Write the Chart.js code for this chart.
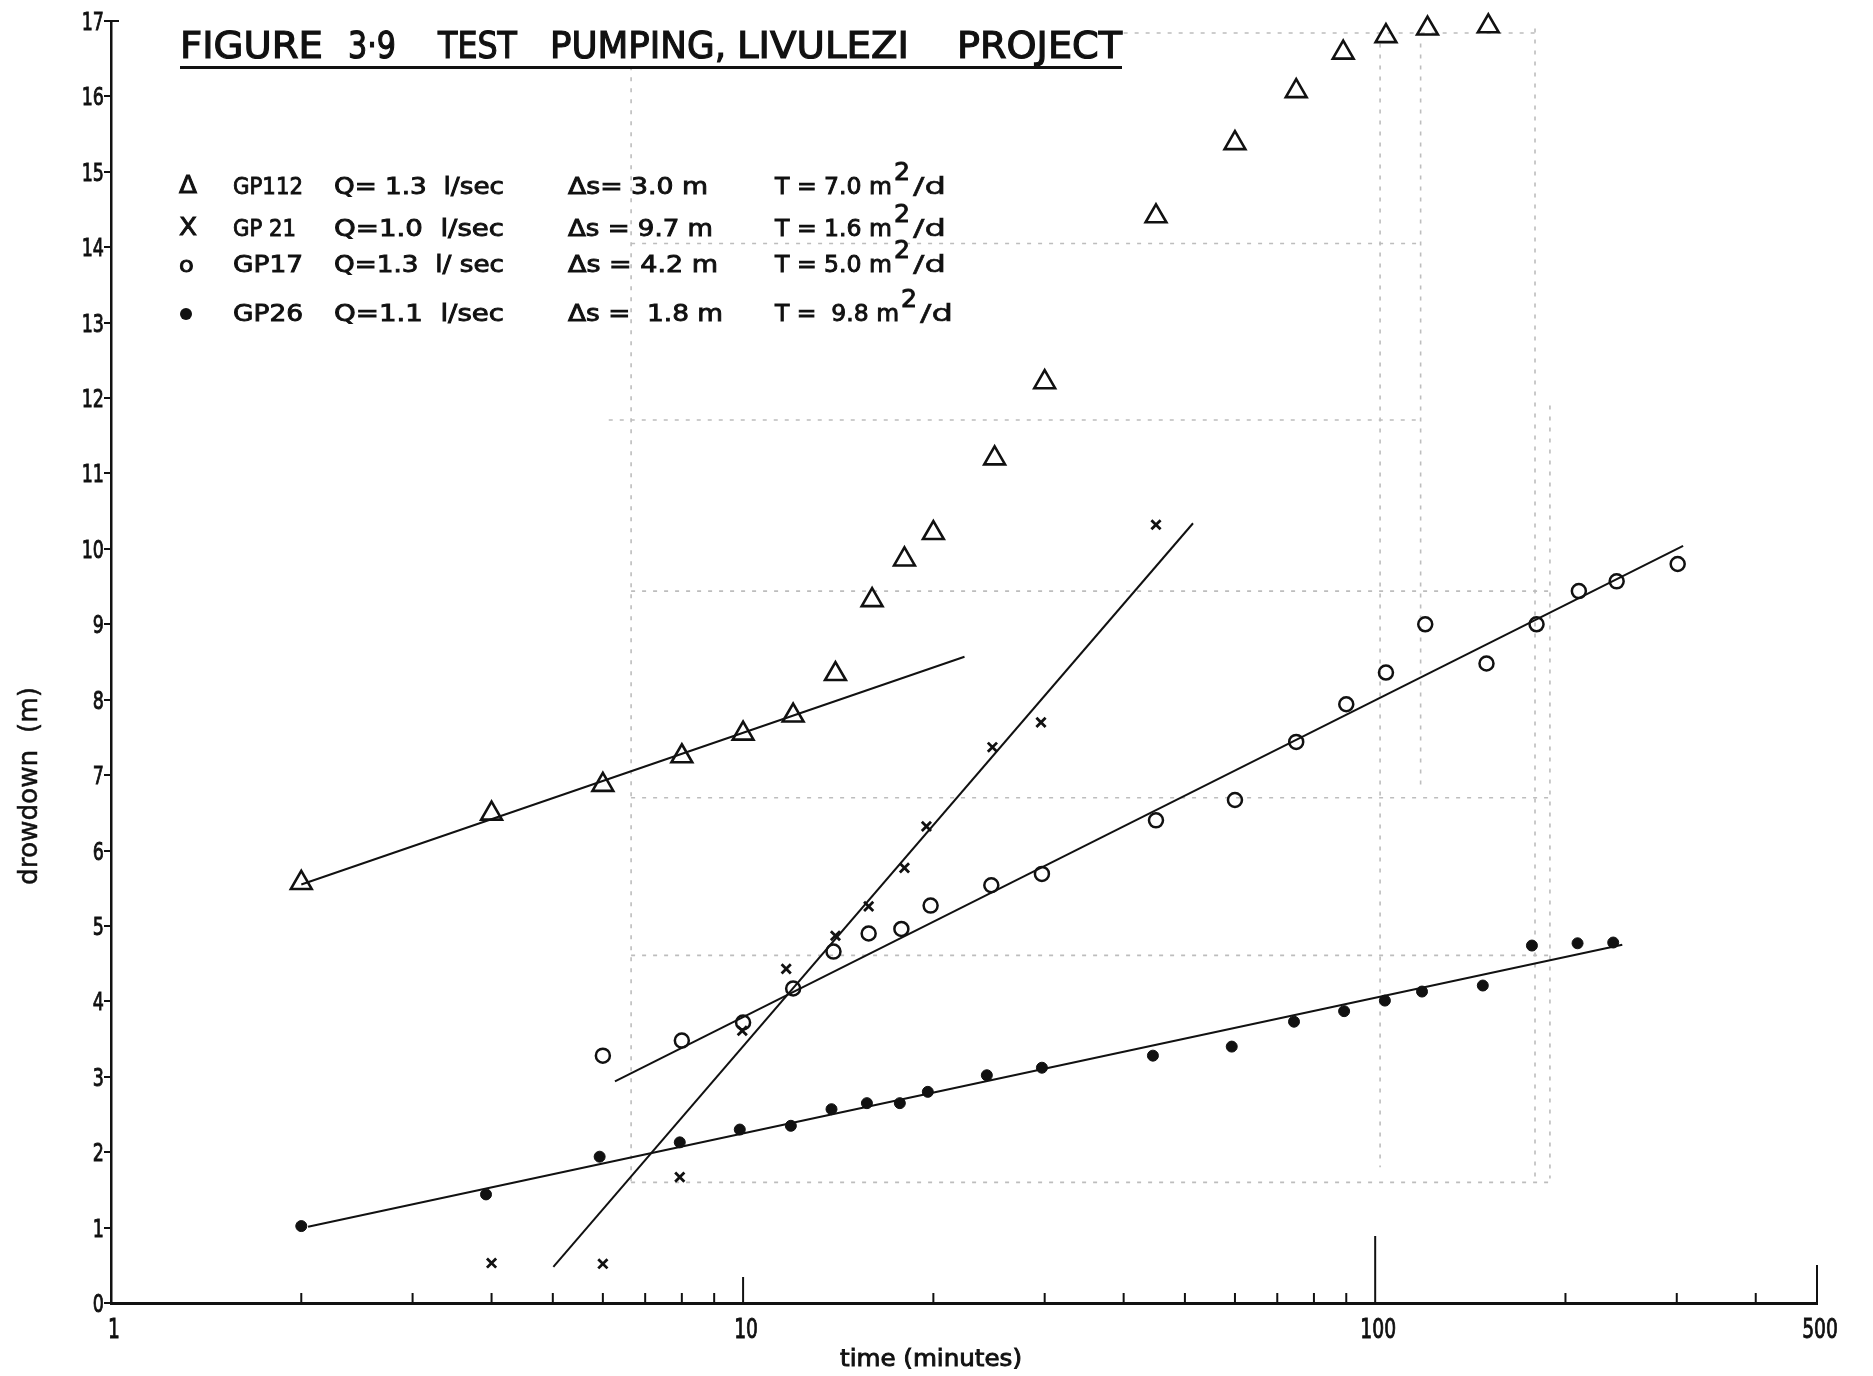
<!DOCTYPE html>
<html lang="en">
<head>
  <meta charset="UTF-8" />
  <title>Figure 3.9 Test Pumping, Livulezi Project</title>
  <script src="https://cdn.jsdelivr.net/npm/chart.js@4.4.0/dist/chart.umd.min.js"></script>
  <style>
    html, body { margin: 0; padding: 0; background: #fff; }
    #wrap { width: 1873px; height: 1376px; }
  </style>
</head>
<body>
  <div id="wrap"><canvas id="chart" width="1873" height="1376"></canvas></div>

  <script>
    // --- values: time (minutes) vs drawdown (m) ---
    const gp112Time = [2, 4, 6, 8, 10, 12, 14, 16, 18, 20, 25, 30, 45, 60, 75, 89, 104, 121, 151];
    const gp112Draw = [5.57, 6.49, 6.87, 7.25, 7.55, 7.79, 8.34, 9.32, 9.86, 10.21, 11.2, 12.21, 14.41, 15.38, 16.07, 16.58, 16.8, 16.9, 16.93];

    const gp21Time = [4, 6, 7.94, 9.97, 11.7, 14, 15.8, 18, 19.5, 24.8, 29.6, 45];
    const gp21Draw = [0.53, 0.52, 1.67, 3.61, 4.43, 4.87, 5.26, 5.77, 6.32, 7.37, 7.7, 10.32];

    const gp17Time = [6, 8, 10, 12, 13.9, 15.8, 17.8, 19.8, 24.7, 29.7, 45, 60, 75, 90, 104, 120, 150, 180, 210, 241, 301];
    const gp17Draw = [3.28, 3.48, 3.72, 4.17, 4.66, 4.9, 4.96, 5.27, 5.54, 5.69, 6.4, 6.67, 7.44, 7.94, 8.36, 9.0, 8.48, 9.0, 9.44, 9.57, 9.8];

    const gp26Time = [2, 3.92, 5.93, 7.94, 9.88, 11.9, 13.8, 15.7, 17.7, 19.6, 24.3, 29.7, 44.5, 59.3, 74.4, 89.3, 103.6, 118.6, 148, 177, 209, 238];
    const gp26Draw = [1.02, 1.44, 1.94, 2.13, 2.3, 2.35, 2.57, 2.65, 2.65, 2.8, 3.02, 3.12, 3.28, 3.4, 3.73, 3.87, 4.01, 4.13, 4.21, 4.74, 4.77, 4.78];

    // straight-line fits drawn on the original (end points)
    const fit112Time = [2.0, 22.4];   const fit112Draw = [5.55, 8.57];
    const fit21Time  = [5.01, 51.5];  const fit21Draw  = [0.48, 10.34];
    const fit17Time  = [6.27, 307];   const fit17Draw  = [2.94, 10.04];
    const fit26Time  = [2.05, 246];   const fit26Draw  = [1.01, 4.75];

    // axes
    const xTickLabels = [1, 10, 100, 500];
    const xMin = 1, xMax = 500, yMin = 0, yMax = 17;

    // legend block text
    const legendSymbols = ['\u0394', 'X', 'o', '\u2022'];
    const wellNames = ['GP112', 'GP 21', 'GP17', 'GP26'];
    const rates = ['Q= 1.3  l/sec', 'Q=1.0  l/sec', 'Q=1.3  l/ sec', 'Q=1.1  l/sec'];
    const deltaS = ['\u0394s= 3.0 m', '\u0394s = 9.7 m', '\u0394s = 4.2 m', '\u0394s =  1.8 m'];
    const transm = ['T = 7.0 m', 'T = 1.6 m', 'T = 5.0 m', 'T =  9.8 m'];

    const titleWords = ['FIGURE', '3\u00B79', 'TEST', 'PUMPING,', 'LIVULEZI', 'PROJECT'];

    // faint dashed bleed-through lines of the scanned sheet, in data units
    const scanVert = [[6.65, 16.4, 1.55], [101.8, 16.7, 1.8], [118, 16.7, 6.8], [179, 16.9, 1.6], [189, 11.9, 1.65]];
    const scanHorz = [[16.84, 40, 179], [14.05, 6.65, 118], [11.71, 6.13, 118], [9.44, 6.65, 188], [6.7, 6.65, 188], [4.61, 6.65, 188], [1.6, 6.65, 189]];

    const pts = (xs, ys) => xs.map((x, i) => ({ x: x, y: ys[i] }));

    // pen-lettering look: condensed DejaVu, lightly stroked
    function drawText(ctx, s, x, y, o) {
      ctx.save();
      ctx.font = o.size + 'px "DejaVu Sans", sans-serif';
      const w = ctx.measureText(s).width;
      const sx = o.width ? o.width / w : (o.sx || 1);
      ctx.translate(x, y);
      if (o.rot) ctx.rotate(o.rot);
      ctx.scale(sx, 1);
      ctx.textAlign = o.align || 'left';
      ctx.textBaseline = 'alphabetic';
      ctx.fillStyle = '#111';
      ctx.strokeStyle = '#111';
      ctx.lineWidth = o.pen === undefined ? 0.9 : o.pen;
      ctx.fillText(s, 0, 0);
      if (ctx.lineWidth > 0) ctx.strokeText(s, 0, 0);
      ctx.restore();
    }

    const paper = {
      id: 'paper',
      beforeDatasetsDraw(chart) {
        const { ctx, scales: { x, y } } = chart;
        ctx.save();
        ctx.strokeStyle = '#bdbdbd';
        ctx.lineWidth = 1.6;
        ctx.setLineDash([4, 7]);
        scanVert.forEach(v => {
          ctx.beginPath();
          ctx.moveTo(x.getPixelForValue(v[0]), y.getPixelForValue(v[1]));
          ctx.lineTo(x.getPixelForValue(v[0]), y.getPixelForValue(v[2]));
          ctx.stroke();
        });
        scanHorz.forEach(h => {
          ctx.beginPath();
          ctx.moveTo(x.getPixelForValue(h[1]), y.getPixelForValue(h[0]));
          ctx.lineTo(x.getPixelForValue(h[2]), y.getPixelForValue(h[0]));
          ctx.stroke();
        });
        ctx.restore();
      },
      afterDraw(chart) {
        const { ctx, chartArea: a, scales: { x, y } } = chart;
        ctx.save();
        ctx.strokeStyle = '#111';
        ctx.lineWidth = 2;

        // upward log ticks on the time axis
        for (let dec = 1; dec <= 100; dec *= 10) {
          for (let k = 1; k <= 9; k++) {
            const v = k * dec;
            if (v > xMax || v === 1) continue;
            let len = 10;
            if (v === 10) len = 26;
            if (v === 100) len = 67;
            const px = x.getPixelForValue(v);
            ctx.beginPath();
            ctx.moveTo(px, a.bottom);
            ctx.lineTo(px, a.bottom - len);
            ctx.stroke();
          }
        }
        const p500 = x.getPixelForValue(xMax);
        ctx.beginPath();
        ctx.moveTo(p500, a.bottom);
        ctx.lineTo(p500, a.bottom - 38);
        ctx.stroke();

        // little stub at top of drawdown axis
        ctx.beginPath();
        ctx.moveTo(a.left, a.top);
        ctx.lineTo(a.left + 8, a.top);
        ctx.stroke();
        ctx.restore();

        // tick labels
        y.ticks.forEach(t => {
          drawText(ctx, String(t.value), a.left - 7, y.getPixelForValue(t.value) + 9, { size: 25, sx: 0.7, align: 'right' });
        });
        xTickLabels.forEach(v => {
          drawText(ctx, String(v), x.getPixelForValue(v) + 3, a.bottom + 35, { size: 26, sx: 0.72, align: 'center' });
        });

        // axis titles
        drawText(ctx, 'drowdown  (m)', 37, 786, { size: 26, width: 198, align: 'center', rot: -Math.PI / 2, pen: 0.5 });
        drawText(ctx, 'time (minutes)', 931, 1366, { size: 23, width: 182, align: 'center' });

        // figure title, underlined
        const titleX = [180, 348, 438, 550, 737, 957];
        const titleW = [143, 48, 79, 176, 172, 165];
        titleWords.forEach((w, i) => drawText(ctx, w, titleX[i], 58, { size: 37, width: titleW[i], pen: 1.2 }));
        ctx.save();
        ctx.fillStyle = '#111';
        ctx.fillRect(180, 66, 942, 3);
        ctx.restore();

        // legend block
        const rowY = [194, 236, 272, 321];
        rowY.forEach((by, i) => {
          if (i === 3) {
            ctx.save();
            ctx.fillStyle = '#111';
            ctx.beginPath();
            ctx.arc(186, by - 7, 6, 0, Math.PI * 2);
            ctx.fill();
            ctx.restore();
          } else if (i === 2) {
            drawText(ctx, legendSymbols[i], 179, by, { size: 22, sx: 1.1 });
          } else {
            drawText(ctx, legendSymbols[i], 179, by - 1, { size: 24, sx: 1.1 });
          }
          drawText(ctx, wellNames[i], 233, by, { size: 23, width: i === 1 ? 63 : 70 });
          drawText(ctx, rates[i], 334, by, { size: 23, width: 170 });
          drawText(ctx, deltaS[i], 568, by, { size: 23, width: 140 + i * 5 });
          const tw = i === 3 ? 124 : 117;
          drawText(ctx, transm[i], 775, by, { size: 23, width: tw });
          drawText(ctx, '2', 775 + tw + 2, by - 14, { size: 24, width: 16 });
          drawText(ctx, '/d', 775 + tw + 21, by, { size: 23, width: 33, pen: 0.5 });
        });
      }
    };

    const ctx = document.getElementById('chart').getContext('2d');
    new Chart(ctx, {
      type: 'scatter',
      data: {
        datasets: [
          { label: 'GP112', data: pts(gp112Time, gp112Draw), pointStyle: 'triangle', pointRadius: 12,
            borderColor: '#111', backgroundColor: 'rgba(0,0,0,0)', borderWidth: 2.6, clip: false },
          { label: 'GP21', data: pts(gp21Time, gp21Draw), pointStyle: 'crossRot', pointRadius: 6.5,
            borderColor: '#111', backgroundColor: '#111', borderWidth: 2.8, clip: false },
          { label: 'GP17', data: pts(gp17Time, gp17Draw), pointStyle: 'circle', pointRadius: 7,
            borderColor: '#111', backgroundColor: 'rgba(0,0,0,0)', borderWidth: 2.5, clip: false },
          { label: 'GP26', data: pts(gp26Time, gp26Draw), pointStyle: 'circle', pointRadius: 5.5,
            borderColor: '#111', backgroundColor: '#111', borderWidth: 1, clip: false },
          { type: 'line', data: pts(fit112Time, fit112Draw), showLine: true, pointRadius: 0, borderColor: '#111', borderWidth: 2 },
          { type: 'line', data: pts(fit21Time, fit21Draw), showLine: true, pointRadius: 0, borderColor: '#111', borderWidth: 2 },
          { type: 'line', data: pts(fit17Time, fit17Draw), showLine: true, pointRadius: 0, borderColor: '#111', borderWidth: 2 },
          { type: 'line', data: pts(fit26Time, fit26Draw), showLine: true, pointRadius: 0, borderColor: '#111', borderWidth: 2 }
        ]
      },
      options: {
        responsive: false,
        animation: false,
        layout: { padding: { top: 21, right: 56, bottom: 0, left: 0 } },
        plugins: { legend: { display: false }, tooltip: { enabled: false } },
        scales: {
          x: {
            type: 'logarithmic',
            min: xMin, max: xMax,
            grid: { display: false, drawTicks: false },
            border: { display: true, color: '#111', width: 3 },
            ticks: { display: false },
            afterFit: s => { s.height = 73; }
          },
          y: {
            min: yMin, max: yMax,
            ticks: { display: false, stepSize: 1 },
            grid: { drawOnChartArea: false, drawTicks: true, tickLength: 7, color: '#111', lineWidth: 2 },
            border: { display: true, color: '#111', width: 2.5 },
            afterFit: s => { s.width = 111; }
          }
        }
      },
      plugins: [paper]
    });
  </script>
</body>
</html>
